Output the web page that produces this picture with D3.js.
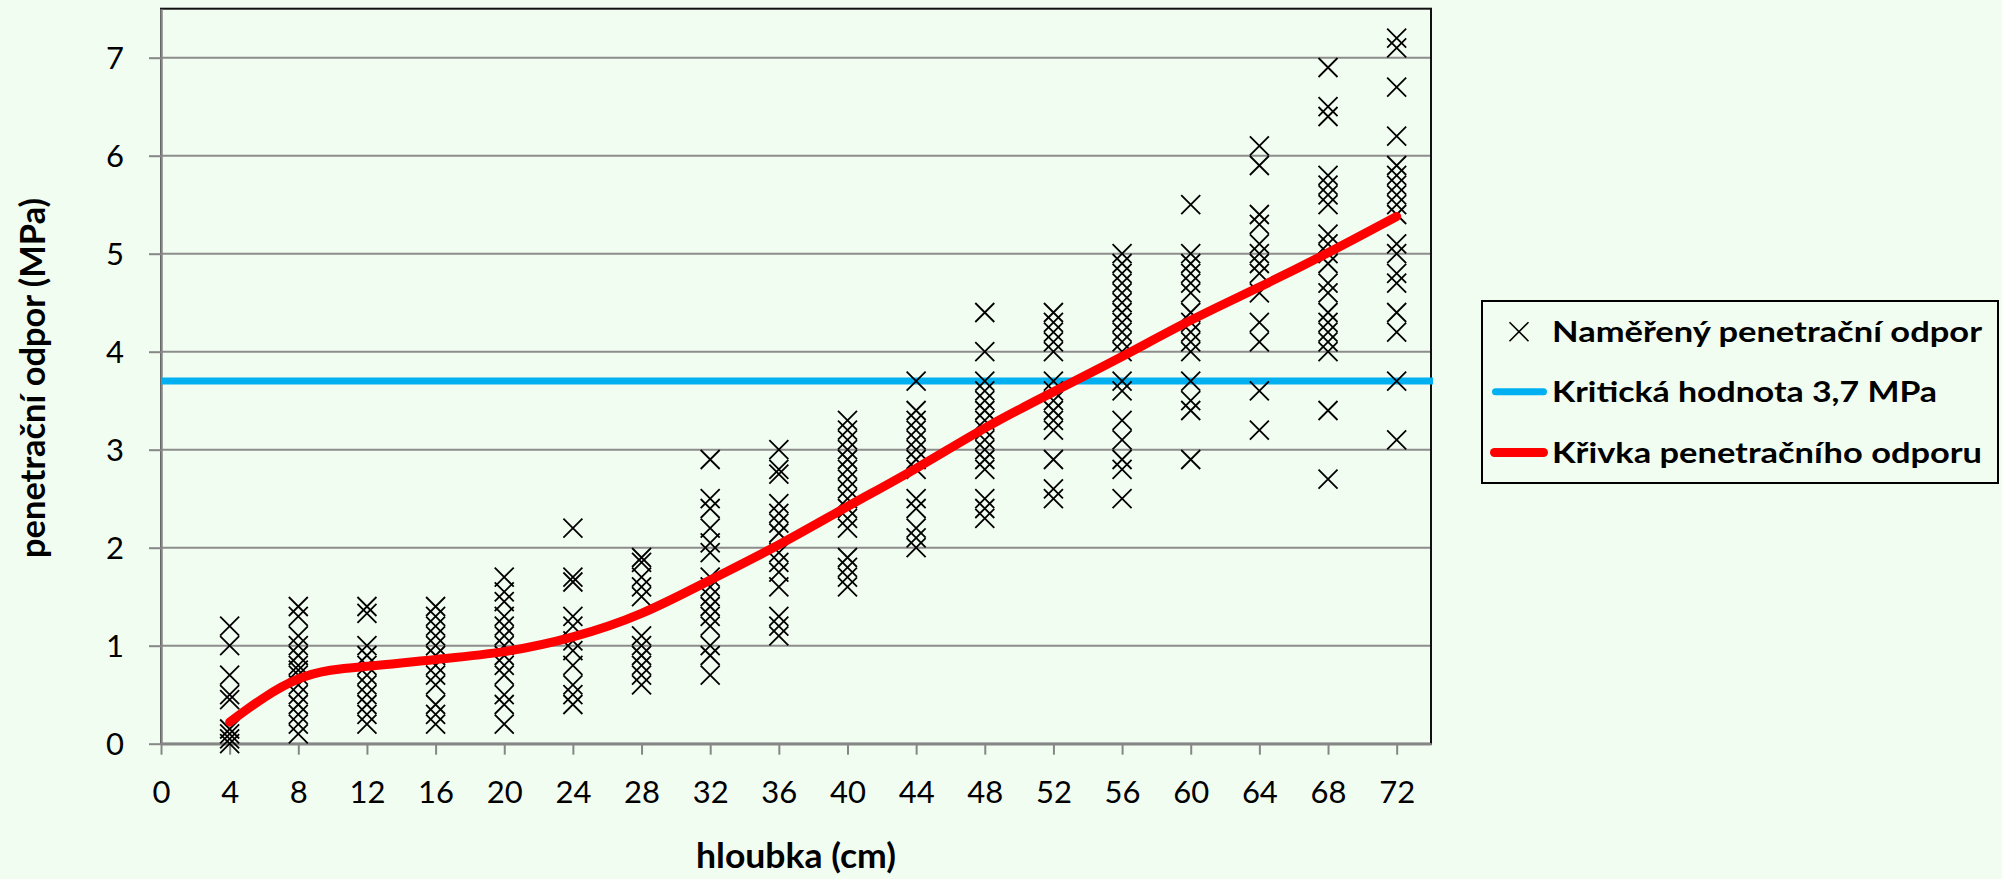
<!DOCTYPE html>
<html>
<head>
<meta charset="utf-8">
<script src="https://cdn.jsdelivr.net/npm/d3@7"></script>
<style>
  html, body { margin: 0; padding: 0; background: #f2fdf2; }
  svg { display: block; }
</style>
</head>
<body>
<svg id="chart" width="2002" height="879"></svg>
<script>
// ---------------- DATA ----------------
const depths = [4, 8, 12, 16, 20, 24, 28, 32, 36, 40, 44, 48, 52, 56, 60, 64, 68, 72];

const measuredAt4  = [1.2, 1.0, 0.7, 0.5, 0.45, 0.15, 0.1, 0.05, 0.0];
const measuredAt8  = [1.4, 1.3, 1.1, 1.0, 0.9, 0.8, 0.75, 0.7, 0.6, 0.5, 0.4, 0.3, 0.2, 0.1];
const measuredAt12 = [1.4, 1.33, 1.0, 0.9, 0.8, 0.7, 0.6, 0.5, 0.4, 0.3, 0.2];
const measuredAt16 = [1.4, 1.3, 1.2, 1.1, 1.0, 0.9, 0.8, 0.7, 0.6, 0.4, 0.3, 0.2];
const measuredAt20 = [1.7, 1.55, 1.45, 1.3, 1.2, 1.1, 1.0, 0.9, 0.8, 0.7, 0.5, 0.4, 0.2];
const measuredAt24 = [2.2, 1.7, 1.65, 1.3, 1.2, 1.05, 0.95, 0.8, 0.6, 0.5, 0.4];
const measuredAt28 = [1.9, 1.85, 1.7, 1.6, 1.5, 1.1, 1.0, 0.9, 0.8, 0.7, 0.6];
const measuredAt32 = [2.9, 2.5, 2.4, 2.2, 2.05, 1.95, 1.7, 1.6, 1.5, 1.4, 1.3, 1.2, 1.0, 0.9, 0.7];
const measuredAt36 = [3.0, 2.8, 2.75, 2.45, 2.35, 2.25, 2.15, 1.95, 1.85, 1.75, 1.6, 1.3, 1.2, 1.1];
const measuredAt40 = [3.3, 3.2, 3.1, 3.0, 2.9, 2.8, 2.7, 2.6, 2.5, 2.4, 2.3, 2.2, 1.9, 1.8, 1.7, 1.6];
const measuredAt44 = [3.7, 3.4, 3.3, 3.2, 3.1, 3.0, 2.9, 2.8, 2.5, 2.4, 2.2, 2.1, 2.0];
const measuredAt48 = [4.4, 4.0, 3.7, 3.6, 3.5, 3.4, 3.3, 3.2, 3.1, 3.0, 2.9, 2.8, 2.5, 2.4, 2.3];
const measuredAt52 = [4.4, 4.3, 4.2, 4.1, 4.0, 3.7, 3.6, 3.5, 3.4, 3.3, 3.2, 2.9, 2.6, 2.5];
const measuredAt56 = [5.0, 4.9, 4.8, 4.7, 4.6, 4.5, 4.4, 4.3, 4.2, 4.1, 4.0, 3.7, 3.6, 3.3, 3.1, 2.9, 2.8, 2.5];
const measuredAt60 = [5.5, 5.0, 4.9, 4.8, 4.7, 4.6, 4.4, 4.3, 4.2, 4.1, 4.0, 3.7, 3.5, 3.4, 2.9];
const measuredAt64 = [6.1, 5.9, 5.4, 5.3, 5.1, 5.0, 4.9, 4.8, 4.6, 4.3, 4.1, 3.6, 3.2];
const measuredAt68 = [6.9, 6.5, 6.4, 5.8, 5.7, 5.6, 5.5, 5.2, 5.1, 5.0, 4.9, 4.7, 4.6, 4.4, 4.3, 4.2, 4.1, 4.0, 3.4, 2.7];
const measuredAt72 = [7.2, 7.1, 6.7, 6.2, 5.9, 5.8, 5.7, 5.6, 5.5, 5.4, 5.1, 5.0, 4.8, 4.7, 4.4, 4.2, 3.7, 3.1];

const measured = [measuredAt4, measuredAt8, measuredAt12, measuredAt16, measuredAt20, measuredAt24,
  measuredAt28, measuredAt32, measuredAt36, measuredAt40, measuredAt44, measuredAt48,
  measuredAt52, measuredAt56, measuredAt60, measuredAt64, measuredAt68, measuredAt72];

const curveValues = [0.22, 0.66, 0.79, 0.86, 0.94, 1.09, 1.33, 1.67, 2.03, 2.42, 2.81, 3.22, 3.59, 3.95, 4.32, 4.66, 5.01, 5.38];

const criticalValue = 3.7;
const criticalRange = [0, 74];

const xTicks = [0, 4, 8, 12, 16, 20, 24, 28, 32, 36, 40, 44, 48, 52, 56, 60, 64, 68, 72];
const yTicks = [0, 1, 2, 3, 4, 5, 6, 7];
const xDomain = [0, 74];
const yDomain = [0, 7.5];

const xTitle = "hloubka (cm)";
const yTitle = "penetrační odpor (MPa)";
const legendLabels = ["Naměřený penetrační odpor", "Kritická hodnota 3,7 MPa", "Křivka penetračního odporu"];

// ---------------- DRAW ----------------
const svg = d3.select("#chart");
const W = 2002, H = 879;
const plot = { left: 161, right: 1431, top: 8.7, bottom: 743.7 };
const FONT = "Lato, 'Open Sans', sans-serif";

svg.append("rect").attr("width", W).attr("height", H).attr("fill", "#f2fdf2");

const x = d3.scaleLinear().domain(xDomain).range([plot.left, plot.right]);
const y = d3.scaleLinear().domain(yDomain).range([plot.bottom, plot.top]);

// gridlines
svg.append("g").selectAll("line")
  .data(yTicks.filter(v => v > 0))
  .join("line")
  .attr("x1", plot.left).attr("x2", plot.right)
  .attr("y1", d => y(d)).attr("y2", d => y(d))
  .attr("stroke", "#8c8c8c").attr("stroke-width", 2);

// plot border
svg.append("rect")
  .attr("x", plot.left).attr("y", plot.top)
  .attr("width", plot.right - plot.left).attr("height", plot.bottom - plot.top)
  .attr("fill", "none").attr("stroke", "#111").attr("stroke-width", 2);

// axes
const yAxis = svg.append("g")
  .attr("transform", `translate(${plot.left},0)`)
  .call(d3.axisLeft(y).tickValues(yTicks).tickSize(12).tickSizeOuter(0).tickPadding(25).tickFormat(d3.format("d")));
const xAxis = svg.append("g")
  .attr("transform", `translate(0,${plot.bottom})`)
  .call(d3.axisBottom(x).tickValues(xTicks).tickSize(11).tickSizeOuter(0).tickFormat(d3.format("d")));

[yAxis, xAxis].forEach(g => {
  g.select(".domain").attr("stroke", "#868686").attr("stroke-width", 2.5);
  g.selectAll(".tick line").attr("stroke", "#868686").attr("stroke-width", 2);
  g.selectAll(".tick text").attr("fill", "#000").attr("font-family", FONT).attr("font-size", 31);
});
yAxis.selectAll(".tick text").attr("dy", "0.36em");
xAxis.selectAll(".tick text").attr("y", 48.3).attr("dy", "0.36em");

// critical line
svg.append("line")
  .attr("x1", x(criticalRange[0])).attr("x2", x(criticalRange[1]) + 2)
  .attr("y1", y(criticalValue)).attr("y2", y(criticalValue))
  .attr("stroke", "#00b0f0").attr("stroke-width", 7);

// scatter markers
const points = depths.flatMap((d, i) => measured[i].map(v => ({ x: d, y: v })));
const markerPath = "M-9.5,-9.5L9.5,9.5M-9.5,9.5L9.5,-9.5";
svg.append("g").selectAll("path")
  .data(points)
  .join("path")
  .attr("transform", d => `translate(${x(d.x)},${y(d.y)})`)
  .attr("d", markerPath)
  .attr("fill", "none").attr("stroke", "#000").attr("stroke-width", 1.8);

// curve
const curveData = depths.map((d, i) => ({ x: d, y: curveValues[i] }));
svg.append("path")
  .datum(curveData)
  .attr("d", d3.line().x(d => x(d.x)).y(d => y(d.y)).curve(d3.curveNatural))
  .attr("fill", "none").attr("stroke", "#ff0000").attr("stroke-width", 9)
  .attr("stroke-linecap", "round").attr("stroke-linejoin", "round");

// axis titles
svg.append("text")
  .attr("x", 796).attr("y", 868)
  .attr("text-anchor", "middle")
  .attr("textLength", 200).attr("lengthAdjust", "spacingAndGlyphs")
  .attr("font-family", FONT).attr("font-weight", "bold").attr("font-size", 34)
  .text(xTitle);
svg.append("text")
  .attr("transform", "translate(45,378) rotate(-90)")
  .attr("text-anchor", "middle")
  .attr("textLength", 360).attr("lengthAdjust", "spacingAndGlyphs")
  .attr("font-family", FONT).attr("font-weight", "bold").attr("font-size", 34)
  .text(yTitle);

// legend
const lg = svg.append("g");
lg.append("rect").attr("x", 1482).attr("y", 301).attr("width", 516).attr("height", 182)
  .attr("fill", "none").attr("stroke", "#000").attr("stroke-width", 2);
const rowY = [331.7, 391.7, 452.5];
const textLens = [430, 385, 430];
lg.append("path").attr("transform", `translate(1519,${rowY[0]})`).attr("d", markerPath)
  .attr("fill", "none").attr("stroke", "#000").attr("stroke-width", 1.6);
lg.append("line").attr("x1", 1495.5).attr("x2", 1543.5).attr("y1", rowY[1]).attr("y2", rowY[1])
  .attr("stroke", "#00b0f0").attr("stroke-width", 7).attr("stroke-linecap", "round");
lg.append("line").attr("x1", 1494.5).attr("x2", 1543.5).attr("y1", rowY[2]).attr("y2", rowY[2])
  .attr("stroke", "#ff0000").attr("stroke-width", 9).attr("stroke-linecap", "round");
lg.selectAll("text.lbl").data(legendLabels).join("text")
  .attr("class", "lbl")
  .attr("x", 1552).attr("y", (d, i) => rowY[i] + 10)
  .attr("textLength", (d, i) => textLens[i]).attr("lengthAdjust", "spacingAndGlyphs")
  .attr("font-family", FONT).attr("font-weight", "bold").attr("font-size", 28)
  .text(d => d);
</script>
</body>
</html>
